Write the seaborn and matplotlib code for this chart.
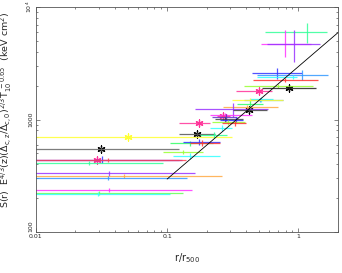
import numpy as np
import pandas as pd
import matplotlib
matplotlib.use("Agg")
import matplotlib.pyplot as plt
import seaborn as sns
from matplotlib.ticker import LogLocator, FixedFormatter, FixedLocator, NullFormatter

# --- data ------------------------------------------------------------------
# each point: radius, entropy, x-range, y-range, colour, star marker
r_val = [0.0504, 0.0313, 0.0292, 0.0319, 0.0355, 0.0254, 0.0361, 0.0469, 0.0355,
         0.0361, 0.0303, 0.0297,
         1.17, 0.795, 0.931, 0.692, 1.07, 0.916, 0.795, 0.703, 0.853, 0.504,
         0.522, 0.513, 0.43, 0.43, 0.408, 0.319, 0.423, 0.277, 0.267, 0.282,
         0.277, 0.336, 0.292, 0.33, 0.175, 0.263, 0.169, 0.229, 0.15, 0.175,
         0.185, 0.132, 0.15]
s_val = [699, 547, 437, 440, 437, 411, 334, 315, 302, 236, 222, 218,
         6000, 4690, 4690, 2590, 2490, 2390, 2245, 1985, 1905, 1792,
         1521, 1490, 1490, 1374, 1291, 1239, 1214, 1096, 1074, 1052,
         1010, 990, 950, 931, 931, 840, 743, 728, 618, 631,
         618, 514, 474]
r_lo = [0.005, 0.005, 0.005, 0.005, 0.005, 0.005, 0.005, 0.005, 0.005, 0.005, 0.005, 0.005,
        0.56, 0.522, 0.58, 0.446, 0.486, 0.486, 0.453, 0.387, 0.531, 0.336,
        0.43, 0.387, 0.313, 0.342, 0.267, 0.164, 0.319, 0.213, 0.24, 0.22,
        0.232, 0.254, 0.221, 0.26, 0.124, 0.213, 0.1236, 0.179, 0.1054, 0.132,
        0.15, 0.093, 0.111]
r_hi = [0.313, 0.1236, 0.124, 0.13, 0.14, 0.0931, 0.164, 0.263, 0.142, 0.155, 0.132, 0.1054,
        1.64, 1.24, 1.47, 1.07, 1.69, 0.982, 1.40, 1.30, 1.37, 0.634,
        0.644, 0.768, 0.768, 0.541, 0.703, 0.59, 0.58, 0.446, 0.30, 0.34,
        0.38, 0.38, 0.394, 0.40, 0.213, 0.313, 0.232, 0.287, 0.224, 0.254,
        0.254, 0.188, 0.254]
s_lo = [670, 525, 420, 415, 420, 395, 318, 300, 288, 227, 212, 208,
        4790, 3590, 3250, 2290, 2245, 2300, 2160, 1910, 1830, 1730,
        1440, 1420, 1440, 1300, 1240, 1052, 1160, 1040, 1030, 980,
        960, 930, 900, 880, 895, 790, 710, 690, 585, 590,
        585, 490, 450]
s_hi = [730, 570, 455, 470, 455, 428, 352, 330, 318, 246, 232, 228,
        7210, 6250, 6250, 2870, 2755, 2480, 2330, 2060, 1980, 1860,
        1600, 1560, 1540, 1450, 1340, 1402, 1270, 1150, 1120, 1130,
        1060, 1050, 1000, 980, 970, 890, 780, 770, 650, 670,
        655, 540, 500]
colours = ["#ffff33", "#666666", "#ff3399", "#3333ff", "#ff4455", "#33ff99",
           "#9933ff", "#ffaa44", "#3399ff", "#ff33ff", "#66ff55", "#33ffff",
           "#33ff99", "#ff33ff", "#9933ff", "#3333ff", "#3399ff", "#33ffff",
           "#ff3333", "#99ff33", "#222222", "#ff3399",
           "#33ffff", "#3399ff", "#ffff33", "#33ff66", "#ffaa44", "#9933ff",
           "#444444", "#ff33ff", "#ff3399", "#6633cc",
           "#444444", "#3333ff", "#99ff33", "#ff3333", "#ff3399", "#33ffff",
           "#555555", "#33ff99", "#33ff66", "#3333ff",
           "#ff3333", "#99ff33", "#33ffff"]
star = [1, 1, 1, 0, 0, 0, 0, 0, 0, 0, 0, 0,
        0, 0, 0, 0, 0, 0, 0, 0, 1, 1,
        0, 0, 0, 0, 0, 0, 1, 0, 1, 0,
        0, 0, 0, 0, 1, 0, 1, 0, 0, 0,
        0, 0, 0]

# fitted baseline
fit_r = [0.1, 2.0]
fit_s = [296, 5920]

df = pd.DataFrame({"r": r_val, "S": s_val, "rlo": r_lo, "rhi": r_hi,
                   "slo": s_lo, "shi": s_hi, "c": colours, "star": star})

sns.set_style("ticks")
plt.rcParams["font.family"] = ["DejaVu Sans"]
plt.rcParams["mathtext.fontset"] = "dejavusans"

fig = plt.figure(figsize=(3.42, 2.73), dpi=100)
ax = fig.add_axes([0.105, 0.150, 0.883, 0.824])

for _, p in df.iterrows():
    ax.errorbar(p.r, p.S, xerr=[[p.r - p.rlo], [p.rhi - p.r]],
                yerr=[[p.S - p.slo], [p.shi - p.S]],
                fmt="none", ecolor=p.c, elinewidth=0.9, capsize=0, alpha=0.85)

stars = df[df.star == 1]
for _, p in stars.iterrows():
    c = "black" if p.c in ("#666666", "#222222", "#444444", "#555555") else p.c
    sns.scatterplot(x=[p.r], y=[p.S], marker=(6, 2, 0), s=26, color=c,
                    linewidth=0.9, ax=ax, legend=False)

sns.lineplot(x=fit_r, y=fit_s, color="black", linewidth=0.6, ax=ax)

ax.set_xscale("log")
ax.set_yscale("log")
ax.set_xlim(0.01, 2.0)
ax.set_ylim(100, 10000)

ax.xaxis.set_major_locator(FixedLocator([0.01, 0.1, 1]))
ax.xaxis.set_major_formatter(FixedFormatter(["0.01", "0.1", "1"]))
ax.yaxis.set_major_locator(FixedLocator([100, 1000, 10000]))
ax.yaxis.set_major_formatter(FixedFormatter(["100", "1000", r"$10^4$"]))
ax.xaxis.set_minor_locator(LogLocator(base=10, subs=np.arange(2, 10)))
ax.yaxis.set_minor_locator(LogLocator(base=10, subs=np.arange(2, 10)))
ax.xaxis.set_minor_formatter(NullFormatter())
ax.yaxis.set_minor_formatter(NullFormatter())

ax.tick_params(which="both", direction="in", top=True, right=True,
               labelsize=4.5, width=0.5, color="#555555", pad=1.5)
ax.tick_params(which="major", length=3)
ax.tick_params(which="minor", length=1.5)
ylabs = ax.get_yticklabels()
for lab in ylabs:
    lab.set_rotation(90)
    lab.set_va("center")
ylabs[0].set_va("bottom")   # keep "100" clear of "0.01"
for sp in ax.spines.values():
    sp.set_linewidth(0.6)
    sp.set_color("#555555")

ax.set_xlabel(r"$\mathregular{r/r_{500}}$", fontsize=7, labelpad=9)
ax.set_ylabel(r"$\mathregular{S(r)\ \ E^{4/3}(z)(\Delta_{c,z}/\Delta_{c,0})^{2/3}T_{10}^{\ -0.65}\ \ (keV\ cm^2)}$",
              fontsize=6.8)
ax.yaxis.set_label_coords(-0.072, 0.545)

fig.savefig("out.png", dpi=100)
